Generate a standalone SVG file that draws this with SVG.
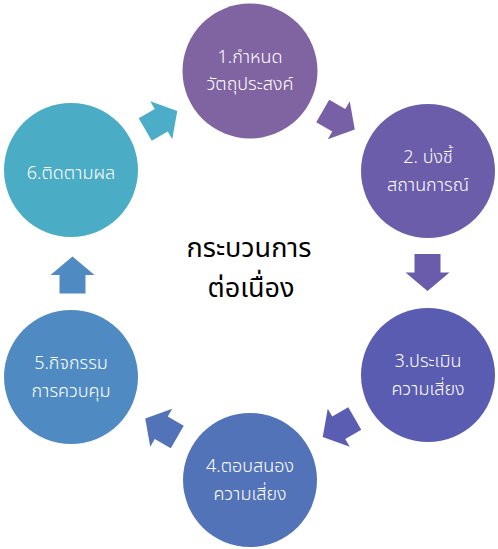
<svg xmlns="http://www.w3.org/2000/svg" width="498" height="549" viewBox="0 0 498 549">
<style>
.lbl{font-family:"Noto Sans","Noto Sans Thai","DejaVu Sans",sans-serif;font-size:18px;font-weight:300;fill:#ffffff;text-anchor:middle}
.ctr{font-family:"Noto Sans","Noto Sans Thai","DejaVu Sans",sans-serif;font-size:27px;fill:#000000;text-anchor:middle}
</style>
<defs>
<polygon id="arr" points="-18.5,-13 0,-13 0,-22 18.5,0 0,22 0,13 -18.5,13"/>
</defs>
<rect width="498" height="549" fill="#ffffff"/>
<g id="connectors">
<use href="#arr" transform="translate(338.75,120.3) rotate(30)" fill="#7860A6"/>
<use href="#arr" transform="translate(427.5,272.5) rotate(90)" fill="#6A5CAB"/>
<use href="#arr" transform="translate(338.75,427.7) rotate(150)" fill="#5A5DB2"/>
<use href="#arr" transform="translate(161.25,427.7) rotate(210)" fill="#5373B9"/>
<use href="#arr" transform="translate(72.5,275) rotate(270)" fill="#4F8BC2"/>
<use href="#arr" transform="translate(161.25,120.3) rotate(330)" fill="#4BADC7"/>
</g>
<g id="node1">
<circle cx="250" cy="71" r="67.5" fill="#8064A2"/>
<text class="lbl" x="250" y="63">1.กำหนด</text>
<text class="lbl" x="250" y="90">วัตถุประสงค์</text>
</g>
<g id="node2">
<circle cx="428" cy="171" r="67" fill="#6B5DAA"/>
<text class="lbl" x="428" y="163">2. บ่งชี้</text>
<text class="lbl" x="428" y="191">สถานการณ์</text>
</g>
<g id="node3">
<circle cx="428" cy="375" r="67" fill="#5A5CB2"/>
<text class="lbl" x="428" y="367">3.ประเมิน</text>
<text class="lbl" x="428" y="395">ความเสี่ยง</text>
</g>
<g id="node4">
<circle cx="250" cy="480" r="67" fill="#5373B9"/>
<text class="lbl" x="250" y="472">4.ตอบสนอง</text>
<text class="lbl" x="250" y="500">ความเสี่ยง</text>
</g>
<g id="node5">
<circle cx="71" cy="377" r="67" fill="#4F8BC2"/>
<text class="lbl" x="71" y="369">5.กิจกรรม</text>
<text class="lbl" x="71" y="397">การควบคุม</text>
</g>
<g id="node6">
<circle cx="71" cy="170" r="67" fill="#4BACC6"/>
<text class="lbl" x="71" y="179">6.ติดตามผล</text>
</g>
<g id="center">
<text class="ctr" x="249" y="257">กระบวนการ</text>
<text class="ctr" x="251" y="297">ต่อเนื่อง</text>
</g>
</svg>
